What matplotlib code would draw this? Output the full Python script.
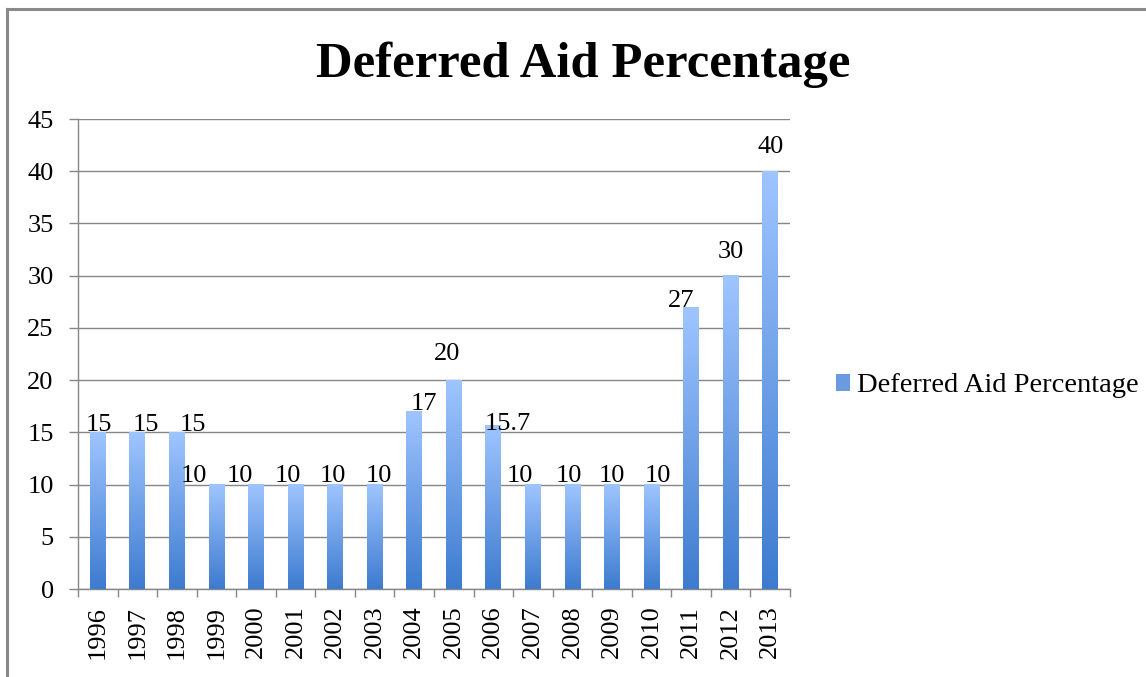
import matplotlib.pyplot as plt
import numpy as np
from matplotlib.colors import LinearSegmentedColormap
from matplotlib.patches import Patch
from matplotlib.lines import Line2D

years = ['1996', '1997', '1998', '1999', '2000', '2001', '2002', '2003', '2004',
         '2005', '2006', '2007', '2008', '2009', '2010', '2011', '2012', '2013']
values = [15, 15, 15, 10, 10, 10, 10, 10, 17, 20, 15.7, 10, 10, 10, 10, 27, 30, 40]
labels = ['15', '15', '15', '10', '10', '10', '10', '10', '17',
          '20', '15.7', '10', '10', '10', '10', '27', '30', '40']
# label nudges in pixels (Excel put them a bit all over the place)
label_dx = [1, 9, 16, -23, -16, -8, -2, 4, 10, -7, 14, -13, -4, 0, 6, -10, 0, 0]
label_dy = [1, 1, 1, 3, 3, 3, 3, 3, 1, 20, -5, 3, 3, 3, 3, 0, 18, 18]

serif = ['Liberation Serif', 'DejaVu Serif']
fs = 19
grey = '#868686'

fig = plt.figure(figsize=(11.46, 6.77), dpi=100)
ax = fig.add_axes([78 / 1146, 1 - 589 / 677, 712 / 1146, 470 / 677])

cmap = LinearSegmentedColormap.from_list('bar', ['#3d7bcf', '#9fc5ff'])
grad = np.linspace(0, 1, 256).reshape(-1, 1)
x = np.arange(len(years))
w = 0.4
bars = ax.bar(x, values, width=w, color='none', edgecolor='none', zorder=3)
for b in bars:
    x0 = b.get_x()
    h = b.get_height()
    ax.imshow(grad, extent=[x0, x0 + w, 0, h], origin='lower', aspect='auto',
              cmap=cmap, zorder=3)

for i, v in enumerate(values):
    ax.annotate(labels[i], (x[i], v), xytext=(label_dx[i], label_dy[i]),
                textcoords='offset pixels', ha='center', va='baseline',
                fontsize=fs, family=serif, color='black', zorder=4)

ax.set_xlim(-0.5, len(years) - 0.5)
ax.set_ylim(0, 45)
ax.set_yticks(range(0, 46, 5))
ax.yaxis.grid(True, color=grey, linewidth=1)
ax.set_axisbelow(True)

ax.set_xticks(np.arange(len(years) + 1) - 0.5)
ax.set_xticklabels([])
ax.set_xticks(x, minor=True)
ax.set_xticklabels(years, minor=True, rotation=90, fontsize=fs, family=serif)
ax.tick_params(axis='x', which='minor', length=0, pad=12)
ax.tick_params(axis='x', which='major', length=6, color=grey, width=1)
ax.tick_params(axis='y', length=6.5, color=grey, width=1, labelsize=fs, pad=11)
for t in ax.get_yticklabels():
    t.set_family(serif)

for s in ['top', 'right']:
    ax.spines[s].set_visible(False)
for s in ['left', 'bottom']:
    ax.spines[s].set_color(grey)
    ax.spines[s].set_linewidth(1)

fig.text(583 / 1146, 1 - 77 / 677, 'Deferred Aid Percentage', ha='center',
         va='baseline', fontsize=36.5, fontweight='bold', family=serif)

handle = Patch(facecolor='#6a9be2', edgecolor='none')
fig.legend([handle], ['Deferred Aid Percentage'], loc='center left',
           bbox_to_anchor=(810 / 1146, 1 - 386 / 677), frameon=False,
           handlelength=0.5, handleheight=0.5, handletextpad=0.25,
           prop={'family': serif, 'size': 20.5})

# chart frame (only top and left edges are visible)
fig.add_artist(Line2D([7 / 1146, 1], [1 - 9 / 677] * 2, color='#8a8a8a',
                      linewidth=2.2, transform=fig.transFigure))
fig.add_artist(Line2D([7 / 1146] * 2, [0, 1 - 9 / 677], color='#8a8a8a',
                      linewidth=2.2, transform=fig.transFigure))

fig.savefig('out.png', dpi=100)
